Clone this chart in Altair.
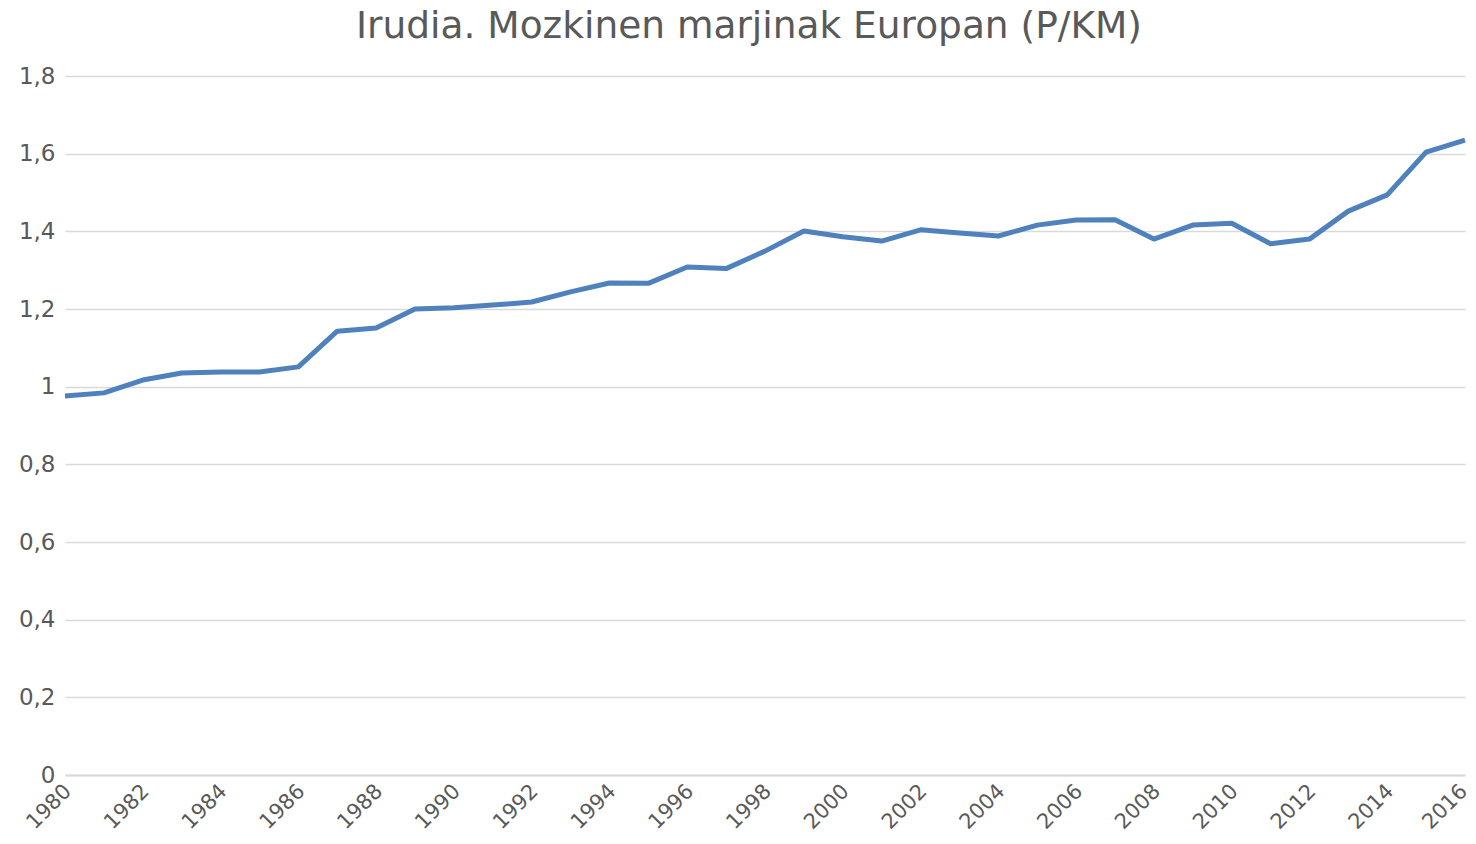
import altair as alt
import pandas as pd

years = list(range(1980, 2017))
values = [0.976, 0.984, 1.017, 1.035, 1.038, 1.038, 1.051, 1.143, 1.151, 1.200,
          1.203, 1.210, 1.218, 1.244, 1.267, 1.266, 1.308, 1.304, 1.349, 1.401,
          1.386, 1.375, 1.404, 1.396, 1.388, 1.416, 1.429, 1.430, 1.380, 1.416,
          1.421, 1.368, 1.380, 1.452, 1.494, 1.604, 1.635]
x_ticks = list(range(1980, 2017, 2))
y_ticks = [0, 0.2, 0.4, 0.6, 0.8, 1.0, 1.2, 1.4, 1.6, 1.8]

df = pd.DataFrame({"year": years, "value": values})

chart = alt.Chart(df).mark_line(color="#4f81bd", strokeWidth=5, strokeJoin="round").encode(
    x=alt.X("year:Q", scale=alt.Scale(domain=[1980, 2016], nice=False, zero=False),
            axis=alt.Axis(values=x_ticks, format="d", labelAngle=-45, grid=False, ticks=False,
                          domainColor="#d9d9d9", domainWidth=2, labelFontSize=21,
                          labelColor="#595959", labelFont="DejaVu Sans", labelPadding=5,
                          labelOffset={"condition": {"test": "datum.value == 2016", "value": -9},
                                       "value": -5},
                          title=None, labelAlign="right", labelBaseline="top",
                          labelFlush=False, labelOverlap=False)),
    y=alt.Y("value:Q", scale=alt.Scale(domain=[0, 1.8], nice=False),
            axis=alt.Axis(values=y_ticks, labelExpr="replace(format(datum.value, '~g'), '.', ',')",
                          grid=True, gridColor="#d9d9d9", gridWidth=1.5, ticks=False, domain=False,
                          labelFontSize=23, labelColor="#595959", labelFont="DejaVu Sans",
                          labelPadding=10, title=None)),
).properties(
    width=1400, height=699,
    title=alt.TitleParams("Irudia. Mozkinen marjinak Europan (P/KM)", fontSize=37.5,
                          font="DejaVu Sans", fontWeight="normal", color="#595959",
                          anchor="middle", dx=-16, offset=20),
    autosize=alt.AutoSizeParams(type="none"),
    padding={"left": 57, "top": 68, "right": 3, "bottom": 60},
).configure_view(stroke=None)

chart.save("out.html", embed_options={"renderer": "svg", "actions": False})
